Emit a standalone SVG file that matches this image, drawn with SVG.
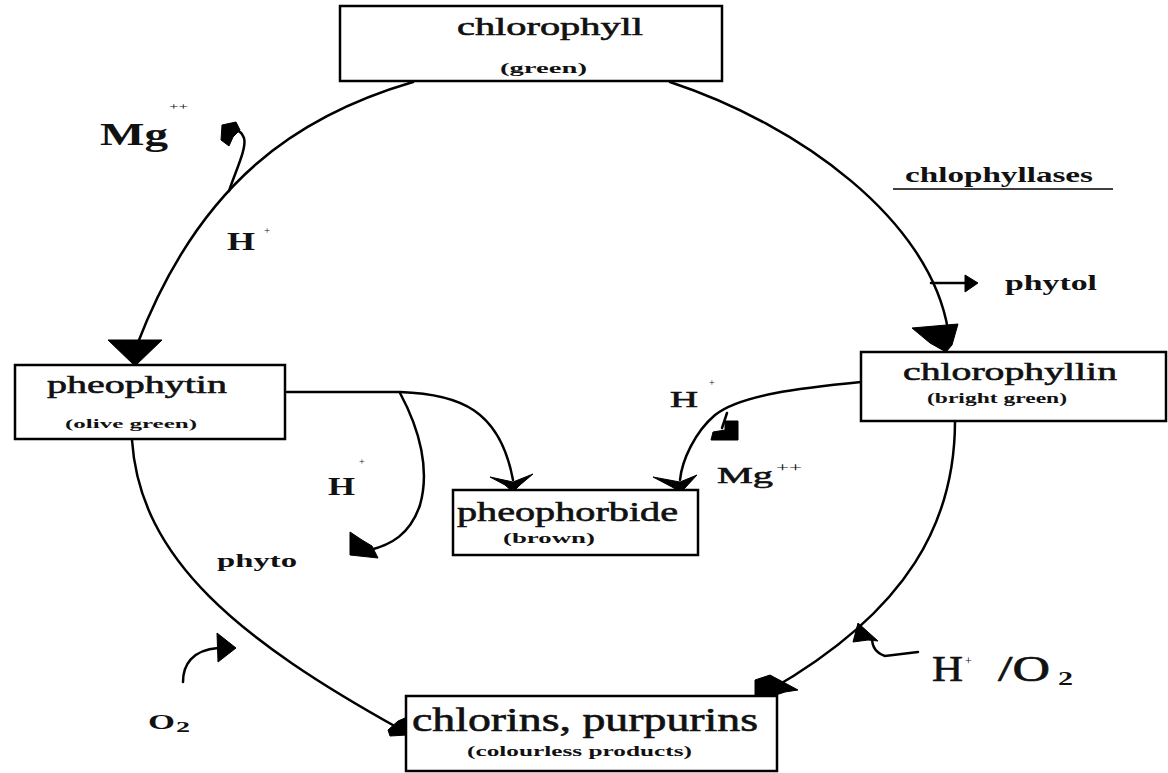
<svg xmlns="http://www.w3.org/2000/svg" width="1168" height="773" viewBox="0 0 1168 773">
<style>
.box{fill:#fff;stroke:#000;stroke-width:2.5}
.ln{fill:none;stroke:#000;stroke-width:2.5;stroke-linecap:round}
.ah{fill:#000;stroke:#000;stroke-width:1;stroke-linejoin:round}
.t{font-family:"Liberation Serif","Times New Roman",serif;fill:#111}
.b{font-weight:bold}
.s{stroke:#111;stroke-width:0.6}
</style>
<rect width="1168" height="773" fill="#fff"/>
<g id="connectors">
  <path class="ln" d="M413,82 C300,115 200,180 137,345"/>
  <polygon class="ah" points="108,340 162,340 135,366"/>
  <path class="ln" d="M229,191 C236,170 247,148 244,138 C242,132 238,130 235,131"/>
  <polygon class="ah" points="222,125 236,122 240,130 233,137 229,146 221,140"/>
  <path class="ln" d="M670,82 C800,125 930,220 948,330"/>
  <polygon class="ah" points="912,328 958,324 952,345 946,352 930,343"/>
  <path class="ln" d="M931,283 L968,283"/>
  <polygon class="ah" points="965,275 978,283 965,292"/>
  <path class="ln" d="M287,392 L400,392 C460,394 500,410 513,480"/>
  <polygon class="ah" points="490,477 513,482 533,474 520,485 513,492 505,485"/>
  <path class="ln" d="M400,393 C420,430 430,470 420,505 C410,535 390,545 370,550"/>
  <polygon class="ah" points="350,532 350,555 378,558 372,546 362,540"/>
  <path class="ln" d="M861,382 C800,388 740,395 715,415 C695,432 682,460 680,480"/>
  <polygon class="ah" points="653,477 680,482 697,475 685,488 680,492 672,487"/>
  <path class="ln" d="M727,413 L722,428"/>
  <polygon class="ah" points="725,421 738,421 738,440 711,440 713,432 725,430"/>
  <path class="ln" d="M132,440 C140,560 240,640 400,729"/>
  <polygon class="ah" points="388,730 398,721 405,718 407,735 390,736"/>
  <path class="ln" d="M183,682 C183,665 192,650 218,648"/>
  <polygon class="ah" points="217,633 236,648 218,662"/>
  <path class="ln" d="M955,421 C955,520 910,610 770,690"/>
  <polygon class="ah" points="755,680 770,675 785,683 798,690 785,692 770,697 755,695"/>
  <path class="ln" d="M918,652 L885,656 C876,653 872,646 872,638"/>
  <polygon class="ah" points="858,623 878,641 868,640 853,642"/>
</g>
<g id="chlorophyll">
  <rect class="box" x="340" y="6" width="382" height="75"/>
  <text class="t s" x="457" y="35" font-size="26" textLength="186" lengthAdjust="spacingAndGlyphs">chlorophyll</text>
  <text class="t b" x="500" y="73" font-size="15" textLength="87" lengthAdjust="spacingAndGlyphs">(green)</text>
</g>
<g id="pheophytin">
  <rect class="box" x="15" y="365" width="270" height="74"/>
  <text class="t s" x="47" y="393" font-size="26" textLength="180" lengthAdjust="spacingAndGlyphs">pheophytin</text>
  <text class="t b" x="65" y="428" font-size="13" textLength="132" lengthAdjust="spacingAndGlyphs">(olive green)</text>
</g>
<g id="chlorophyllin">
  <rect class="box" x="861" y="352" width="305" height="69"/>
  <text class="t s" x="903" y="380" font-size="26" textLength="214" lengthAdjust="spacingAndGlyphs">chlorophyllin</text>
  <text class="t b" x="927" y="403" font-size="14" textLength="140" lengthAdjust="spacingAndGlyphs">(bright green)</text>
</g>
<g id="pheophorbide">
  <rect class="box" x="453" y="490" width="245" height="65"/>
  <text class="t s" x="457" y="521" font-size="27" textLength="221" lengthAdjust="spacingAndGlyphs">pheophorbide</text>
  <text class="t b" x="503" y="543" font-size="15" textLength="92" lengthAdjust="spacingAndGlyphs">(brown)</text>
</g>
<g id="chlorins">
  <rect class="box" x="406" y="696" width="371" height="75"/>
  <text class="t s" x="412" y="731" font-size="33" textLength="346" lengthAdjust="spacingAndGlyphs">chlorins, purpurins</text>
  <text class="t b" x="467" y="756" font-size="15" textLength="225" lengthAdjust="spacingAndGlyphs">(colourless products)</text>
</g>
<g id="labels">
  <text class="t b" x="100" y="145" font-size="32" textLength="68" lengthAdjust="spacingAndGlyphs">Mg</text>
  <text class="t" x="169" y="110" font-size="10" textLength="19" lengthAdjust="spacingAndGlyphs">++</text>
  <text class="t b" x="227" y="250" font-size="26" textLength="28" lengthAdjust="spacingAndGlyphs">H</text>
  <text class="t" x="264" y="234" font-size="11">+</text>
  <text class="t b" x="905" y="182" font-size="20" textLength="188" lengthAdjust="spacingAndGlyphs">chlophyllases</text>
  <line x1="893" y1="189" x2="1113" y2="189" stroke="#000" stroke-width="1.5"/>
  <text class="t b" x="1005" y="290" font-size="20" textLength="92" lengthAdjust="spacingAndGlyphs">phytol</text>
  <text class="t b" x="328" y="495" font-size="26" textLength="27" lengthAdjust="spacingAndGlyphs">H</text>
  <text class="t" x="359" y="465" font-size="10">+</text>
  <text class="t b" x="217" y="567" font-size="19" textLength="80" lengthAdjust="spacingAndGlyphs">phyto</text>
  <text class="t s" x="670" y="407" font-size="24" textLength="28" lengthAdjust="spacingAndGlyphs">H</text>
  <text class="t" x="709" y="386" font-size="10">+</text>
  <text class="t s" x="717" y="483" font-size="24" textLength="56" lengthAdjust="spacingAndGlyphs">Mg</text>
  <text class="t" x="776" y="472" font-size="13" textLength="26" lengthAdjust="spacingAndGlyphs">++</text>
  <text class="t b" x="148" y="729" font-size="22" textLength="27" lengthAdjust="spacingAndGlyphs">O</text>
  <text class="t b" x="176" y="732" font-size="14" textLength="14" lengthAdjust="spacingAndGlyphs">2</text>
  <text class="t s" x="932" y="681" font-size="35" textLength="31" lengthAdjust="spacingAndGlyphs">H</text>
  <text class="t" x="965" y="665" font-size="12">+</text>
  <text class="t s" x="998" y="681" font-size="35" textLength="52" lengthAdjust="spacingAndGlyphs">/O</text>
  <text class="t b" x="1058" y="685" font-size="18" textLength="15" lengthAdjust="spacingAndGlyphs">2</text>
</g>
</svg>
